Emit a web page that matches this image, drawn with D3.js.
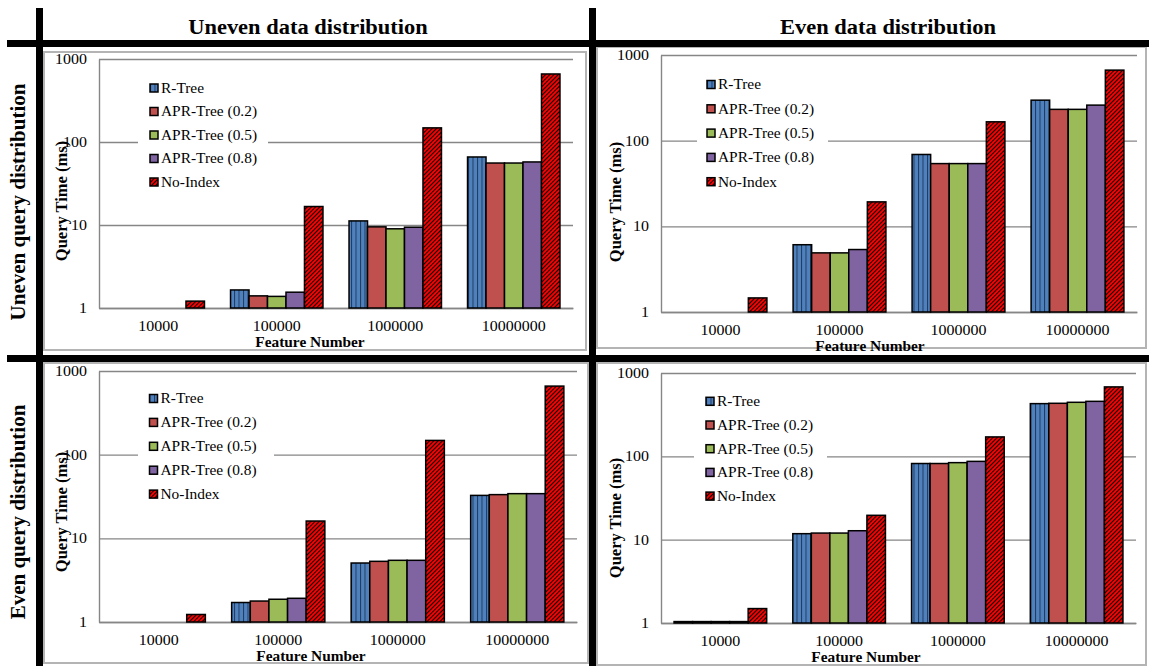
<!DOCTYPE html>
<html>
<head>
<meta charset="utf-8">
<title>Query time - R-Tree vs APR-Tree</title>
<script src="https://cdnjs.cloudflare.com/ajax/libs/d3/7.8.5/d3.min.js"></script>
<style>
	body { margin: 0; background: white; }
	text, .tick text, .legend text {
		font-family: "Liberation Serif", "Times New Roman", serif;
		fill: black;
	}
	.tick text { font-size: 14.5px; }
	.grid line, .grid path, .xaxis path {
		stroke: #868686;
		stroke-width: 1.4;
		fill: none;
	}
	.bar { stroke: black; stroke-width: 1.5; }
	.legend text { font-size: 14px; }
	.title { font-weight: bold; font-size: 21px; }
	.axis-title { font-weight: bold; }
</style>
</head>
<body>
<svg id="main" width="1149" height="666"></svg>

<script>
	var categories = ["10000", "100000", "1000000", "10000000"];
	var seriesNames = ["R-Tree", "APR-Tree (0.2)", "APR-Tree (0.5)", "APR-Tree (0.8)", "No-Index"];
	var yTicks = [1, 10, 100, 1000];

	// uneven data, uneven query (top left)
	var tlRTree   = [1, 1.65, 11.2, 66];
	var tlApr02   = [1, 1.4, 9.5, 55.8];
	var tlApr05   = [1, 1.38, 9.0, 55.8];
	var tlApr08   = [1, 1.55, 9.4, 57.5];
	var tlNoIndex = [1.21, 16.7, 148, 660];

	// even data, uneven query (top right)
	var trRTree   = [1, 6.1, 69, 297];
	var trApr02   = [1, 4.9, 54, 232];
	var trApr05   = [1, 4.9, 54, 232];
	var trApr08   = [1, 5.36, 54, 260];
	var trNoIndex = [1.46, 19.3, 166, 666];

	// uneven data, even query (bottom left)
	var blRTree   = [1, 1.71, 5.07, 32.6];
	var blApr02   = [1, 1.78, 5.31, 33.3];
	var blApr05   = [1, 1.87, 5.46, 34.2];
	var blApr08   = [1, 1.92, 5.46, 34.2];
	var blNoIndex = [1.23, 16.1, 148, 660];

	// even data, even query (bottom right)
	var brRTree   = [1.04, 11.8, 82, 429];
	var brApr02   = [1.04, 12.0, 82, 433];
	var brApr05   = [1.04, 12.0, 84, 445];
	var brApr08   = [1.04, 12.8, 87, 457];
	var brNoIndex = [1.49, 19.6, 171, 681];

	var fills = ["url(#rtree)", "#C0504D", "#9BBB59", "#8064A2", "url(#hatch)"];

	// the source picture is a little wider than tall, text gets the same stretch
	var SX = 1.1;

	// layout of each panel: outer box, plot area, legend, axis titles
	var panels = [
		{ box: [44, 52, 586, 350], plot: [99, 59, 573, 308], legend: [150, 88, 23.5], legendBg: [138, 268],
		  yTitle: [61, 201], xTitleX: 310, series: [tlRTree, tlApr02, tlApr05, tlApr08, tlNoIndex] },
		{ box: [597, 47, 1146, 348], plot: [661, 55, 1137, 312], legend: [707, 84.5, 24.3], legendBg: [697, 828],
		  yTitle: [615, 202], xTitleX: 870, series: [trRTree, trApr02, trApr05, trApr08, trNoIndex] },
		{ box: [44, 363, 588, 663], plot: [99, 371, 577, 622], legend: [149.5, 398.5, 23.9], legendBg: [138, 274],
		  yTitle: [61, 512], xTitleX: 311, series: [blRTree, blApr02, blApr05, blApr08, blNoIndex] },
		{ box: [597, 363, 1146, 665], plot: [661, 373, 1136, 623], legend: [706, 401.3, 23.7], legendBg: [694, 827],
		  yTitle: [615, 518], xTitleX: 866, series: [brRTree, brApr02, brApr05, brApr08, brNoIndex] }
	];

	var svg = d3.select("#main");

	// fill patterns: striped blue and hatched red
	var defs = svg.append("defs");
	var stripes = defs.append("pattern").attr("id", "rtree")
		.attr("patternUnits", "userSpaceOnUse").attr("width", 4.5).attr("height", 10);
	stripes.append("rect").attr("width", 4.5).attr("height", 10).attr("fill", "#4F81BD");
	stripes.append("line").attr("x1", 0.5).attr("x2", 0.5).attr("y1", 0).attr("y2", 10)
		.attr("stroke", "#1F3A60").attr("stroke-width", 1);

	var hatch = defs.append("pattern").attr("id", "hatch")
		.attr("patternUnits", "userSpaceOnUse").attr("width", 3).attr("height", 3)
		.attr("patternTransform", "rotate(45)");
	hatch.append("rect").attr("width", 3).attr("height", 3).attr("fill", "#FF0000");
	hatch.append("line").attr("x1", 0.5).attr("x2", 0.5).attr("y1", 0).attr("y2", 3)
		.attr("stroke", "black").attr("stroke-width", 1.1);

	function drawPanel(p)
	{
		var g = svg.append("g");

		g.append("rect")
			.attr("x", p.box[0]).attr("y", p.box[1])
			.attr("width", p.box[2] - p.box[0]).attr("height", p.box[3] - p.box[1])
			.attr("fill", "white").attr("stroke", "#B4B4B4").attr("stroke-width", 2);

		var left = p.plot[0], top = p.plot[1], right = p.plot[2], bottom = p.plot[3];

		var x0 = d3.scaleBand().domain(categories).range([left, right])
			.paddingInner(0.22).paddingOuter(0.11);
		var x1 = d3.scaleBand().domain(seriesNames).range([0, x0.bandwidth()]);
		var y = d3.scaleLog().domain([1, 1000]).range([bottom, top]);

		// value gridlines + left axis
		var yAxis = g.append("g").attr("class", "grid")
			.attr("transform", "translate(" + left + ",0)")
			.call(d3.axisLeft(y).tickValues(yTicks).tickFormat(d3.format("d"))
				.tickSize(-(right - left)).tickSizeOuter(0).tickPadding(11));
		yAxis.selectAll("text").attr("transform", "scale(" + SX + ",1)");

		var xAxis = g.append("g").attr("class", "xaxis")
			.attr("transform", "translate(0," + bottom + ")")
			.call(d3.axisBottom(x0).tickSize(0).tickPadding(13));
		xAxis.selectAll("text").attr("transform", "scale(" + SX + ",1)");

		// white box behind the legend cuts the gridline
		var lx = p.legend[0], ly = p.legend[1], lstep = p.legend[2];
		g.append("rect")
			.attr("x", p.legendBg[0]).attr("y", ly - 13)
			.attr("width", p.legendBg[1] - p.legendBg[0]).attr("height", lstep * 4 + 26)
			.attr("fill", "white");

		// bars
		seriesNames.forEach(function(name, si) {
			var values = p.series[si];
			g.append("g").selectAll("rect")
				.data(values.map(function(v, ci) { return { cat: categories[ci], v: v }; })
					.filter(function(d) { return d.v > 1; }))
				.enter().append("rect")
				.attr("class", "bar")
				.attr("x", function(d) { return x0(d.cat) + x1(name); })
				.attr("width", x1.bandwidth())
				.attr("y", function(d) { return y(d.v); })
				.attr("height", function(d) { return y(1) - y(d.v); })
				.attr("fill", fills[si]);
		});

		// legend
		var leg = g.append("g").attr("class", "legend");
		var items = leg.selectAll("g").data(seriesNames).enter().append("g")
			.attr("transform", function(d, i) { return "translate(" + lx + "," + (ly + i * lstep) + ")"; });
		items.append("rect")
			.attr("x", 0).attr("y", -4).attr("width", 8).attr("height", 8)
			.attr("fill", function(d, i) { return fills[i]; })
			.attr("stroke", "black").attr("stroke-width", 1.5);
		items.append("text")
			.attr("transform", "translate(11,0) scale(" + SX + ",1)")
			.attr("dy", "0.35em")
			.text(function(d) { return d; });

		// axis titles
		g.append("text").attr("class", "axis-title")
			.attr("transform", "translate(" + p.yTitle[0] + "," + p.yTitle[1] + ") rotate(-90)")
			.attr("text-anchor", "middle").attr("dy", "0.35em")
			.style("font-size", "16.5px")
			.text("Query Time (ms)");

		g.append("text").attr("class", "axis-title")
			.attr("transform", "translate(" + p.xTitleX + "," + (bottom + 34) + ") scale(1.06,1)")
			.attr("dy", "0.35em")
			.attr("text-anchor", "middle")
			.style("font-size", "14.5px")
			.text("Feature Number");
	}

	panels.forEach(drawPanel);

	// thick separators of the 2x2 grid
	var frame = svg.append("g").attr("fill", "black");
	frame.append("rect").attr("x", 7).attr("y", 40).attr("width", 1142).attr("height", 7);
	frame.append("rect").attr("x", 7).attr("y", 355).attr("width", 1142).attr("height", 7);
	frame.append("rect").attr("x", 36).attr("y", 8).attr("width", 7).attr("height", 658);
	frame.append("rect").attr("x", 589).attr("y", 8).attr("width", 7).attr("height", 658);

	// column and row headings
	svg.append("text").attr("class", "title")
		.attr("transform", "translate(308,27) scale(1.07,1)").attr("dy", "0.35em")
		.attr("text-anchor", "middle").text("Uneven data distribution");
	svg.append("text").attr("class", "title")
		.attr("transform", "translate(888,27) scale(1.07,1)").attr("dy", "0.35em")
		.attr("text-anchor", "middle").text("Even data distribution");
	svg.append("text").attr("class", "title")
		.attr("transform", "translate(18,202) rotate(-90)").attr("dy", "0.35em")
		.attr("text-anchor", "middle").text("Uneven query distribution");
	svg.append("text").attr("class", "title")
		.attr("transform", "translate(18,512) rotate(-90)").attr("dy", "0.35em")
		.attr("text-anchor", "middle").text("Even query distribution");
</script>
</body>
</html>
